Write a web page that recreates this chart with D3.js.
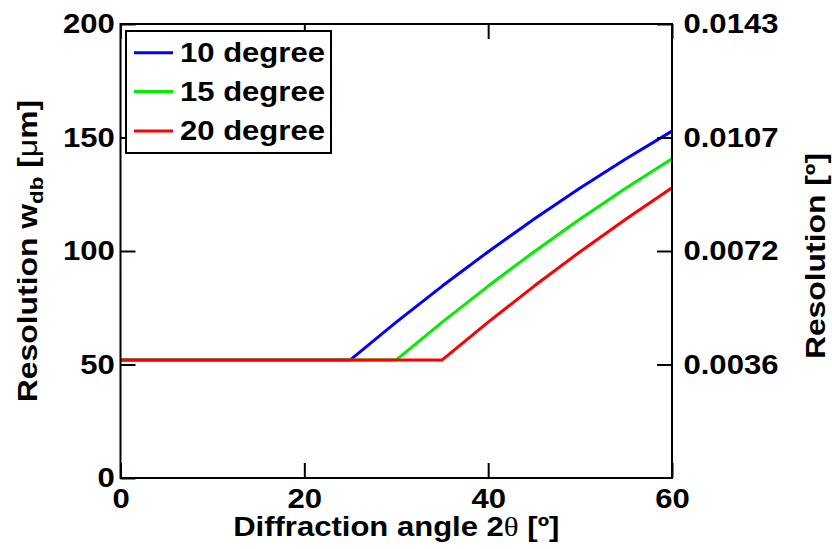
<!DOCTYPE html>
<html>
<head>
<meta charset="utf-8">
<script src="https://cdn.jsdelivr.net/npm/d3@7"></script>
<style>
  html, body { margin: 0; padding: 0; background: #fff; }
  svg { display: block; }
  text { font-family: "Liberation Sans", Arial, sans-serif; font-weight: bold; fill: #000; }
</style>
</head>
<body>
<svg id="chart" width="832" height="549"></svg>
<script>
// ---------- data ----------
const seriesNames = ["10 degree", "15 degree", "20 degree"];
const seriesColors = ["#0000ff", "#00ee00", "#ff0000"];
const angles10 = [0, 25, 30, 35, 40, 45, 50, 55, 60];
const values10 = [52, 52, 68.65, 84.55, 99.7, 114.1, 127.75, 140.65, 152.8];
const angles15 = [0, 30, 35, 40, 45, 50, 55, 60];
const values15 = [52, 52, 68.65, 84.55, 99.7, 114.1, 127.75, 140.65];
const angles20 = [0, 35, 40, 45, 50, 55, 60];
const values20 = [52, 52, 68.65, 84.55, 99.7, 114.1, 127.9];
const xTicks = [0, 20, 40, 60];
const yTicks = [0, 50, 100, 150, 200];
const rightTickValues = [0.003575, 0.00715, 0.010725, 0.0143];
const rightTickLabels = ["0.0036", "0.0072", "0.0107", "0.0143"];

const series = [
  { name: seriesNames[0], color: seriesColors[0], x: angles10, y: values10 },
  { name: seriesNames[1], color: seriesColors[1], x: angles15, y: values15 },
  { name: seriesNames[2], color: seriesColors[2], x: angles20, y: values20 }
];

// ---------- layout ----------
const L = 120.5, R = 672, T = 24, B = 478;
const svg = d3.select("#chart");
const x = d3.scaleLinear().domain([0, 60]).range([L, R]);
const y = d3.scaleLinear().domain([0, 200]).range([B, T]);
const yR = d3.scaleLinear().domain([0, 0.0143]).range([B, T]);
const FS = 27, SX = 1.15, TK = 15;

// ---------- curves ----------
const line = d3.line().x(d => x(d[0])).y(d => y(d[1]));
series.forEach(s => {
  svg.append("path")
    .datum(s.x.map((v, i) => [v, s.y[i]]))
    .attr("d", line)
    .attr("fill", "none")
    .attr("stroke", s.color)
    .attr("stroke-width", 3)
    .attr("stroke-linejoin", "round");
});

// ---------- axes ----------
function styleAxis(g) {
  g.select(".domain").remove();
  g.selectAll(".tick line").attr("stroke", "#000").attr("stroke-width", 2);
  g.selectAll(".tick text")
    .attr("font-size", FS)
    .attr("font-family", "Liberation Sans, Arial, sans-serif")
    .attr("font-weight", "bold")
    .attr("fill", "#000");
}

const gB = svg.append("g").attr("transform", `translate(0,${B})`)
  .call(d3.axisBottom(x).tickValues(xTicks).tickSize(-TK).tickPadding(11).tickFormat(d3.format("d")));
styleAxis(gB);
gB.selectAll(".tick text").attr("transform", `scale(${SX},1)`);

const gT = svg.append("g").attr("transform", `translate(0,${T})`)
  .call(d3.axisTop(x).tickValues(xTicks).tickSize(-TK).tickFormat(""));
styleAxis(gT);

const gL = svg.append("g").attr("transform", `translate(${L},0)`)
  .call(d3.axisLeft(y).tickValues(yTicks).tickSize(-TK).tickPadding(5).tickFormat(d3.format("d")));
styleAxis(gL);
gL.selectAll(".tick text").attr("transform", `scale(${SX},1)`);

const gR = svg.append("g").attr("transform", `translate(${R},0)`)
  .call(d3.axisRight(yR).tickValues(rightTickValues).tickSize(-TK).tickPadding(10)
    .tickFormat((d, i) => rightTickLabels[i]));
styleAxis(gR);
gR.selectAll(".tick text").attr("transform", `scale(${SX},1)`);

// box
svg.append("rect").attr("x", L).attr("y", T).attr("width", R - L).attr("height", B - T)
  .attr("fill", "none").attr("stroke", "#000").attr("stroke-width", 2);

// ---------- titles ----------
const xt = svg.append("text")
  .attr("transform", `translate(${(L + R) / 2},536) scale(${SX},1)`)
  .attr("text-anchor", "middle").attr("font-size", FS);
xt.append("tspan").text("Diffraction angle 2");
xt.append("tspan").attr("font-weight", "normal").attr("font-family", "Liberation Serif, serif").text("θ");
xt.append("tspan").text(" [º]");

const yt = svg.append("text")
  .attr("transform", `translate(37,${(T + B) / 2}) rotate(-90) scale(1.18,1)`)
  .attr("text-anchor", "middle").attr("font-size", FS);
yt.append("tspan").text("Resolution w");
yt.append("tspan").attr("font-size", 19).attr("dy", 6).text("db");
yt.append("tspan").attr("dy", -6).text(" [");
yt.append("tspan").attr("font-weight", "normal").text("μ");
yt.append("tspan").text("m]");

svg.append("text")
  .attr("transform", `translate(825,256) rotate(-90) scale(1.18,1)`)
  .attr("text-anchor", "middle").attr("font-size", FS)
  .text("Resolution [º]");

// ---------- legend ----------
const lg = svg.append("g");
lg.append("rect").attr("x", 126).attr("y", 31).attr("width", 205).attr("height", 122)
  .attr("fill", "#fff").attr("stroke", "#000").attr("stroke-width", 2);
const rowY = [52.7, 91.5, 131];
series.forEach((s, i) => {
  lg.append("line").attr("x1", 134).attr("x2", 173).attr("y1", rowY[i]).attr("y2", rowY[i])
    .attr("stroke", s.color).attr("stroke-width", 3);
  lg.append("text").attr("transform", `translate(180,${rowY[i]}) scale(${SX},1)`)
    .attr("dy", "0.35em").attr("font-size", FS).text(s.name);
});
</script>
</body>
</html>
